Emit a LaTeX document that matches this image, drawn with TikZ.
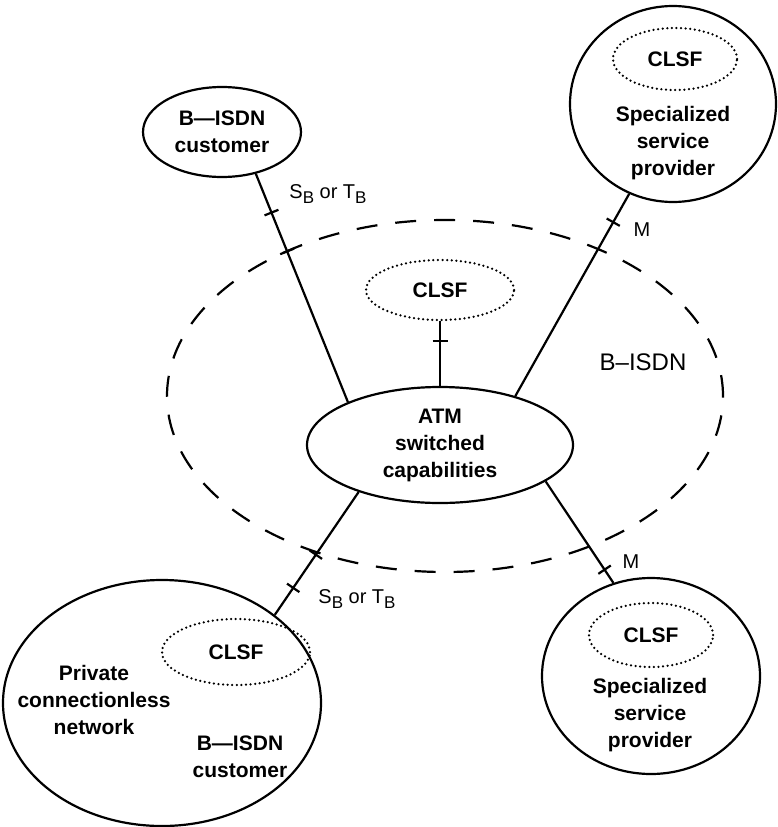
\documentclass[tikz,border=0pt]{standalone}
\usepackage{fontspec}
\setmainfont{Liberation Sans}
\usetikzlibrary{shapes.geometric, decorations.markings}

% large lowered subscript for the reference point labels
\newcommand{\lowsub}[1]{\raisebox{-5pt}{\fontsize{17}{17}\selectfont #1}}

\begin{document}
\begin{tikzpicture}[x=1pt, y=-1pt,
    unit/.style={ellipse, draw, line width=2.2pt, inner sep=0pt},
    clsf/.style={ellipse, draw, line width=2.5pt, dash pattern=on 0pt off 4.6pt, line cap=round,
        inner sep=0pt, minimum width=124pt, minimum height=62pt, font=\fontsize{21}{27}\selectfont\bfseries},
    btext/.style={align=center, font=\fontsize{21}{27}\selectfont\bfseries},
    ltext/.style={font=\fontsize{20}{24}\selectfont},
    link/.style={line width=2.2pt},
    tickat/.style={postaction={decorate, decoration={markings,
        mark=at position #1 with {\draw[line width=2.2pt] (0,-7.5pt) -- (0,7.5pt);}}}}]
    \useasboundingbox (0,0) rectangle (777,827);

    % B-ISDN network boundary
    \node[ellipse, draw, line width=2.2pt, dash pattern=on 21pt off 18pt, inner sep=0pt,
          minimum width=556pt, minimum height=352pt] (net) at (445,396) {};
    \node[ltext, font=\fontsize{24}{28}\selectfont] (netlabel) at (643,362) {B--ISDN};

    % ATM core and its CLSF
    \node[unit, btext, minimum width=266pt, minimum height=116pt] (atm) at (440,445) {ATM\\switched\\capabilities};
    \node[clsf, minimum width=148pt, minimum height=60pt] (clsfc) at (440,290) {CLSF};

    % B-ISDN customer (top left)
    \node[unit, btext, minimum width=158pt, minimum height=90pt] (cust) at (222,132) {B---ISDN\\customer};

    % Specialized service provider (top right)
    \node[unit, minimum width=206pt, minimum height=196pt] (ssp1) at (673,104) {};
    \node[clsf] (clsf1) at (675,59) {CLSF};
    \node[btext] (ssp1txt) at (673,143) {Specialized\\service\\provider};

    % Specialized service provider (bottom right)
    \node[unit, minimum width=218pt, minimum height=196pt] (ssp2) at (651,676) {};
    \node[clsf, minimum height=64pt] (clsf2) at (651,635) {CLSF};
    \node[btext] (ssp2txt) at (650,715) {Specialized\\service\\provider};

    % Private connectionless network (bottom left)
    \node[unit, minimum width=318pt, minimum height=246pt] (priv) at (162,703) {};
    \node[clsf, minimum width=148pt, minimum height=66pt] (clsf3) at (236,652) {CLSF};
    \node[btext] (privtxt) at (94,700) {Private\\connectionless\\network};
    \node[btext] (privcust) at (240,757) {B---ISDN\\customer};

    % Links with reference points
    \draw[link, tickat=0.17, tickat=0.34] (cust.-51) -- (atm.155);
    \draw[link, tickat=0.3] (clsfc.south) -- (atm.north);
    \draw[link, tickat=0.14] (ssp1.-116) -- (atm.33);
    \draw[link, tickat=0.22, tickat=0.49] (priv.38) -- (atm.-150);
    \draw[link, tickat=0.13] (ssp2.112) -- (atm.-19);

    % Reference point labels
    \node[ltext] (sb1) at (328,194) {S\lowsub{B} or T\lowsub{B}};
    \node[ltext] (sb2) at (357,599) {S\lowsub{B} or T\lowsub{B}};
    \node[ltext] (m1) at (642,230) {M};
    \node[ltext] (m2) at (631,562) {M};
\end{tikzpicture}
\end{document}
